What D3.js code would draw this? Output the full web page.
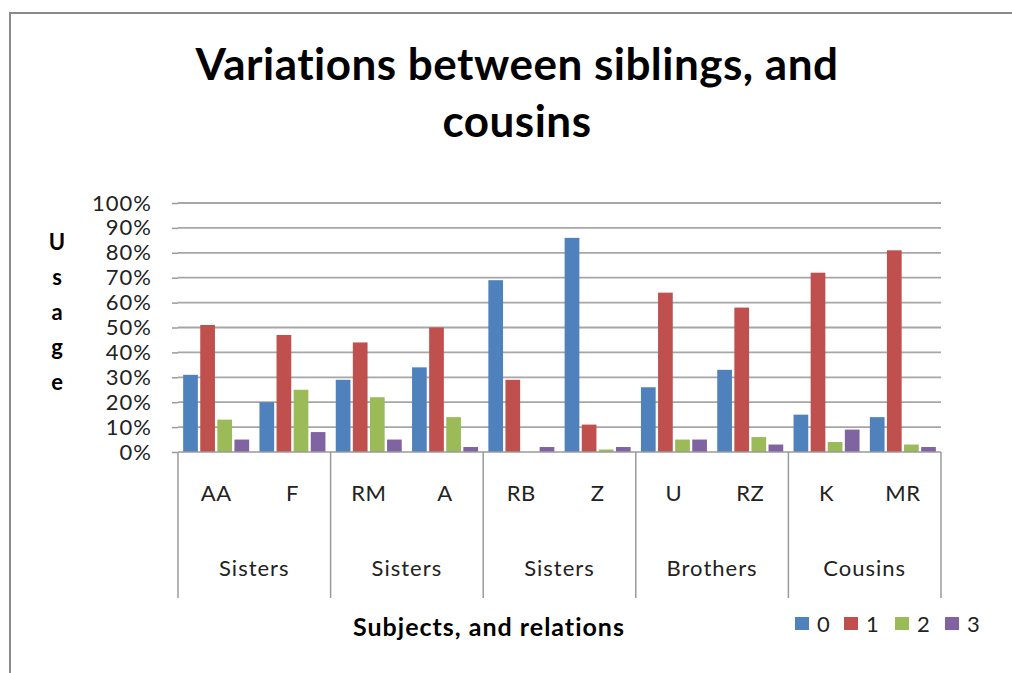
<!DOCTYPE html>
<html>
<head>
<meta charset="utf-8">
<script src="https://cdn.jsdelivr.net/npm/d3@7"></script>
<style>
  html, body { margin: 0; padding: 0; background: #fff; }
  svg { display: block; }
  text { font-family: Lato, "Open Sans", sans-serif; }
</style>
</head>
<body>
<svg id="chart" width="1012" height="673"></svg>
<script>
// ---- data ----
const subjects = ["AA", "F", "RM", "A", "RB", "Z", "U", "RZ", "K", "MR"];
const relations = ["Sisters", "Sisters", "Sisters", "Brothers", "Cousins"];
const seriesNames = ["0", "1", "2", "3"];
const series0 = [31, 20, 29, 34, 69, 86, 26, 33, 15, 14];
const series1 = [51, 47, 44, 50, 29, 11, 64, 58, 72, 81];
const series2 = [13, 25, 22, 14, 0, 1, 5, 6, 4, 3];
const series3 = [5, 8, 5, 2, 2, 2, 5, 3, 9, 2];
const yTicks = [0, 10, 20, 30, 40, 50, 60, 70, 80, 90, 100];
const colors = ["#4F81BD", "#C0504D", "#9BBB59", "#8064A2"];
const titleLines = ["Variations between siblings, and", "cousins"];
const yTitle = "Usage";
const xTitle = "Subjects, and relations";

const allSeries = [series0, series1, series2, series3];

const svg = d3.select("#chart");

// frame
svg.append("path")
  .attr("d", "M10,700 L10,13 L1030,13")
  .attr("fill", "none")
  .attr("stroke", "#8a8a8a")
  .attr("stroke-width", 2);

// layout
const pLeft = 178, pRight = 941, pTop = 203, pBottom = 452;

const y = d3.scaleLinear().domain([0, 100]).range([pBottom, pTop]);
const x = d3.scaleBand().domain(d3.range(subjects.length)).range([pLeft, pRight])
  .paddingInner(0.135).paddingOuter(0.0675);
const xs = d3.scaleBand().domain(d3.range(seriesNames.length)).range([0, x.bandwidth()])
  .paddingInner(0.14).paddingOuter(0);
const groupX = d3.scaleBand().domain(d3.range(relations.length)).range([pLeft, pRight]);

// title
svg.append("g").selectAll("text").data(titleLines).join("text")
  .attr("x", 517)
  .attr("y", (d, i) => 80 + i * 57)
  .attr("text-anchor", "middle")
  .attr("font-size", 44)
  .attr("font-weight", "bold")
  .attr("letter-spacing", 0.5)
  .attr("fill", "#000")
  .text(d => d);

// gridlines
svg.append("g").selectAll("line").data(yTicks.filter(t => t > 0)).join("line")
  .attr("x1", pLeft).attr("x2", pRight)
  .attr("y1", d => y(d)).attr("y2", d => y(d))
  .attr("stroke", "#a6a6a6").attr("stroke-width", 1.8);

// y axis
const yAxis = d3.axisLeft(y).tickValues(yTicks).tickFormat(d => d + "%").tickSize(6).tickPadding(20);
const yg = svg.append("g").attr("transform", `translate(${pLeft},0)`).call(yAxis);
yg.select(".domain").remove();
yg.selectAll(".tick line").attr("stroke", "#9a9a9a").attr("stroke-width", 1.5);
yg.selectAll(".tick text").attr("font-size", 22).attr("fill", "#222")
  .attr("letter-spacing", 1)
  .attr("font-family", "Lato, sans-serif");

// y title (stacked letters)
svg.append("g").selectAll("text").data(yTitle.split("")).join("text")
  .attr("x", 57)
  .attr("y", (d, i) => 250 + i * 35)
  .attr("text-anchor", "middle")
  .attr("font-size", 22)
  .attr("font-weight", "bold")
  .attr("fill", "#000")
  .text(d => d);

// bars
const barG = svg.append("g");
allSeries.forEach((vals, s) => {
  barG.append("g").selectAll("rect").data(vals).join("rect")
    .attr("x", (d, i) => x(i) + xs(s))
    .attr("y", d => y(d))
    .attr("width", xs.bandwidth())
    .attr("height", d => pBottom - y(d))
    .attr("fill", colors[s]);
});

// x axis baseline
svg.append("line")
  .attr("x1", pLeft).attr("x2", pRight).attr("y1", pBottom).attr("y2", pBottom)
  .attr("stroke", "#9a9a9a").attr("stroke-width", 1.5);

// group dividers
const dividers = d3.range(relations.length + 1).map(i => i < relations.length ? groupX(i) : pRight);
svg.append("g").selectAll("line").data(dividers).join("line")
  .attr("x1", d => d).attr("x2", d => d)
  .attr("y1", pBottom).attr("y2", 598)
  .attr("stroke", "#9a9a9a").attr("stroke-width", 1.5);

// subject labels
svg.append("g").selectAll("text").data(subjects).join("text")
  .attr("x", (d, i) => x(i) + x.bandwidth() / 2)
  .attr("y", 501)
  .attr("text-anchor", "middle")
  .attr("font-size", 22)
  .attr("letter-spacing", 0.5)
  .attr("fill", "#222")
  .text(d => d);

// group labels
svg.append("g").selectAll("text").data(relations).join("text")
  .attr("x", (d, i) => groupX(i) + groupX.bandwidth() / 2)
  .attr("y", 576)
  .attr("text-anchor", "middle")
  .attr("font-size", 22)
  .attr("letter-spacing", 1)
  .attr("fill", "#222")
  .text(d => d);

// x title
svg.append("text")
  .attr("x", 489).attr("y", 636)
  .attr("text-anchor", "middle")
  .attr("font-size", 25)
  .attr("font-weight", "bold")
  .attr("letter-spacing", 1)
  .attr("fill", "#000")
  .text(xTitle);

// legend
const legendX = [795, 844, 895, 945];
const lg = svg.append("g").selectAll("g").data(seriesNames).join("g")
  .attr("transform", (d, i) => `translate(${legendX[i]},617)`);
lg.append("rect").attr("width", 14).attr("height", 13).attr("fill", (d, i) => colors[i]);
lg.append("text").attr("x", 22).attr("y", 14.5)
  .attr("font-size", 22).attr("fill", "#222").text(d => d);
</script>
</body>
</html>
